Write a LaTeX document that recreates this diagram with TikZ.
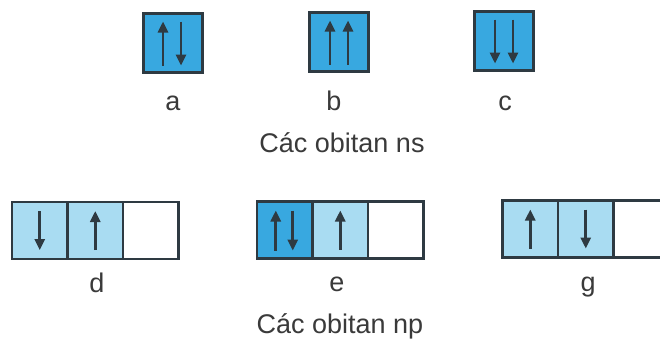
\documentclass[tikz,border=0pt]{standalone}
\usepackage{fontspec}
\setmainfont{Liberation Sans}
\usetikzlibrary{arrows.meta,calc}
\definecolor{sdark}{HTML}{38A8E0}
\definecolor{plight}{HTML}{A9DCF2}
\definecolor{edgec}{HTML}{2E3A42}
\definecolor{txt}{HTML}{3A3A3A}
\begin{document}
\begin{tikzpicture}[x=1pt,y=-1pt,
  orb/.style={draw=edgec, line width=2.6pt, fill=sdark, minimum width=59pt, minimum height=59pt, inner sep=0pt, outer sep=0pt},
  cell/.style={draw=edgec, line width=2.4pt, minimum width=55.5pt, minimum height=57pt, inner sep=0pt, outer sep=0pt},
  spin/.style={line width=2.6pt, draw=edgec, -{Triangle[length=11pt,width=10pt]}},
  lab/.style={font=\fontsize{27}{30}\selectfont, text=txt, anchor=base, inner sep=0pt}]
\useasboundingbox (0,0) rectangle (660,338);
\clip (0,0) rectangle (660,338);
\fill[white] (0,0) rectangle (660,338);
% ns orbitals
\node[orb] (a) at (173,43) {};
\node[orb] (b) at (339,42) {};
\node[orb] (c) at (504,41) {};
\draw[spin] ($(a.south)+(-10,-7)$) -- ($(a.north)+(-10,8)$);
\draw[spin] ($(a.north)+(8,8)$) -- ($(a.south)+(8,-7)$);
\draw[spin] ($(b.south)+(-9,-7)$) -- ($(b.north)+(-9,8)$);
\draw[spin] ($(b.south)+(9,-7)$) -- ($(b.north)+(9,8)$);
\draw[spin] ($(c.north)+(-9,8)$) -- ($(c.south)+(-9,-7)$);
\draw[spin] ($(c.north)+(9,8)$) -- ($(c.south)+(9,-7)$);
\node[lab] (la) at (173,110) {a};
\node[lab] (lb) at (334,110) {b};
\node[lab] (lc) at (505,110) {c};
\node[lab] (tns) at (342,152) {Các obitan ns};
% np orbitals d
\node[cell, fill=plight] (d1) at (39.75,230.5) {};
\node[cell, fill=plight] (d2) at (95.25,230.5) {};
\node[cell, fill=white] (d3) at (150.75,230.5) {};
\draw[spin] ($(d1.north)+(0,9)$) -- ($(d1.south)+(0,-9)$);
\draw[spin] ($(d2.south)+(0,-9)$) -- ($(d2.north)+(0,9)$);
% e
\node[cell, fill=sdark] (e1) at (284.75,230) {};
\node[cell, fill=plight] (e2) at (340.25,230) {};
\node[cell, fill=white] (e3) at (395.75,230) {};
\draw[spin] ($(e1.south)+(-9,-8)$) -- ($(e1.north)+(-9,9)$);
\draw[spin] ($(e1.north)+(8,9)$) -- ($(e1.south)+(8,-8)$);
\draw[spin] ($(e2.south)+(0,-9)$) -- ($(e2.north)+(0,9)$);
% g
\node[cell, fill=plight] (g1) at (530.25,229) {};
\node[cell, fill=plight] (g2) at (585.75,229) {};
\node[cell, fill=white] (g3) at (641.25,229) {};
\draw[spin] ($(g1.south)+(0,-9)$) -- ($(g1.north)+(0,9)$);
\draw[spin] ($(g2.north)+(0,9)$) -- ($(g2.south)+(0,-9)$);
\node[lab] (ld) at (97,292) {d};
\node[lab] (le) at (337,291) {e};
\node[lab] (lg) at (588,291) {g};
\node[lab] (tnp) at (340,333) {Các obitan np};
\end{tikzpicture}
\end{document}
